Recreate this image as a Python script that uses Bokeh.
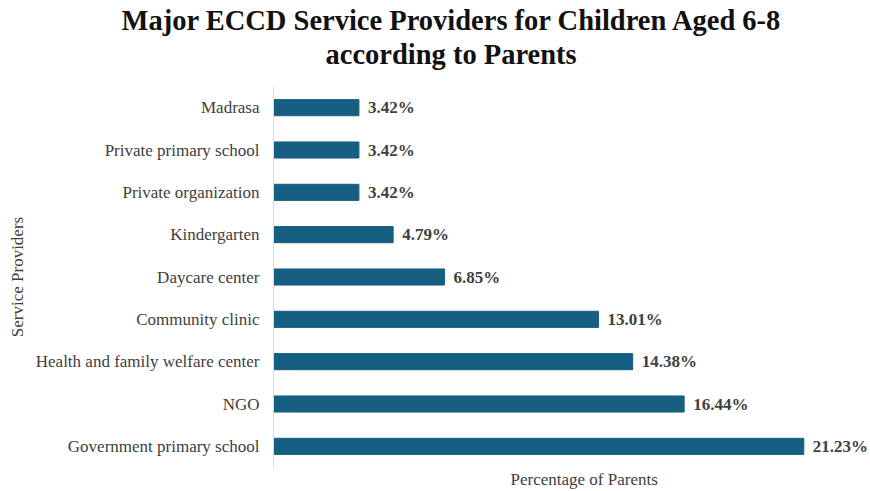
from bokeh.plotting import figure
from bokeh.models import Range1d, FactorRange, ColumnDataSource, Title
from bokeh.core.properties import value
from bokeh.embed import file_html
from bokeh.resources import INLINE

providers = ["Madrasa", "Private primary school", "Private organization", "Kindergarten",
             "Daycare center", "Community clinic", "Health and family welfare center",
             "NGO", "Government primary school"]
percentages = [3.42, 3.42, 3.42, 4.79, 6.85, 13.01, 14.38, 16.44, 21.23]
labels = ["%.2f%%" % v for v in percentages]
title_lines = ["Major ECCD Service Providers for Children Aged 6-8", "according to Parents"]
x_label = "Percentage of Parents"
y_label = "Service Providers"

SERIF = "Liberation Serif"
BAR = "#175f82"
TXT = "#404040"

src = ColumnDataSource(dict(cat=providers, val=percentages, lab=labels))

p = figure(width=870, height=491, output_backend="svg", toolbar_location=None,
           y_range=FactorRange(*reversed(providers)), x_range=Range1d(0, 23.9),
           min_border_left=273, min_border_right=0, min_border_top=86, min_border_bottom=24)

p.hbar(y="cat", right="val", height=0.38, source=src, color=BAR)
p.text(x="val", y="cat", text="lab", source=src, x_offset=9,
       text_baseline="middle", text_align="left", text_font=value(SERIF),
       text_font_size="17px", text_font_style="bold", text_color=TXT)

# second line first: later-added titles sit farther from the frame
p.add_layout(Title(text=title_lines[1], align="left", offset=52, standoff=34,
                   text_font=SERIF, text_font_size="28.5px", text_font_style="bold",
                   text_color="#111111"), "above")
p.add_layout(Title(text=title_lines[0], align="left", offset=-152, standoff=-32,
                   text_font=SERIF, text_font_size="28.5px", text_font_style="bold",
                   text_color="#111111"), "above")

p.add_layout(Title(text=x_label, align="left", offset=237, standoff=0,
                   text_font=SERIF, text_font_size="17px", text_font_style="normal",
                   text_color=TXT), "below")

p.xgrid.visible = False
p.ygrid.visible = False
p.outline_line_color = None

xa = p.xaxis[0]
xa.ticker = []
xa.axis_line_color = None
xa.major_tick_line_color = None
xa.minor_tick_line_color = None
xa.major_tick_out = 0

ya = p.yaxis[0]
ya.axis_line_color = "#d9d9d9"
ya.axis_line_width = 1
ya.major_tick_line_color = None
ya.minor_tick_line_color = None
ya.major_tick_out = 0
ya.major_tick_in = 0
ya.major_label_standoff = 14
ya.major_label_text_font = SERIF
ya.major_label_text_font_size = "17px"
ya.major_label_text_color = TXT
ya.axis_label = y_label
ya.axis_label_text_font = SERIF
ya.axis_label_text_font_size = "17px"
ya.axis_label_text_font_style = "normal"
ya.axis_label_text_color = TXT
ya.axis_label_standoff = 6

open("out.html", "w").write(file_html(p, INLINE))
